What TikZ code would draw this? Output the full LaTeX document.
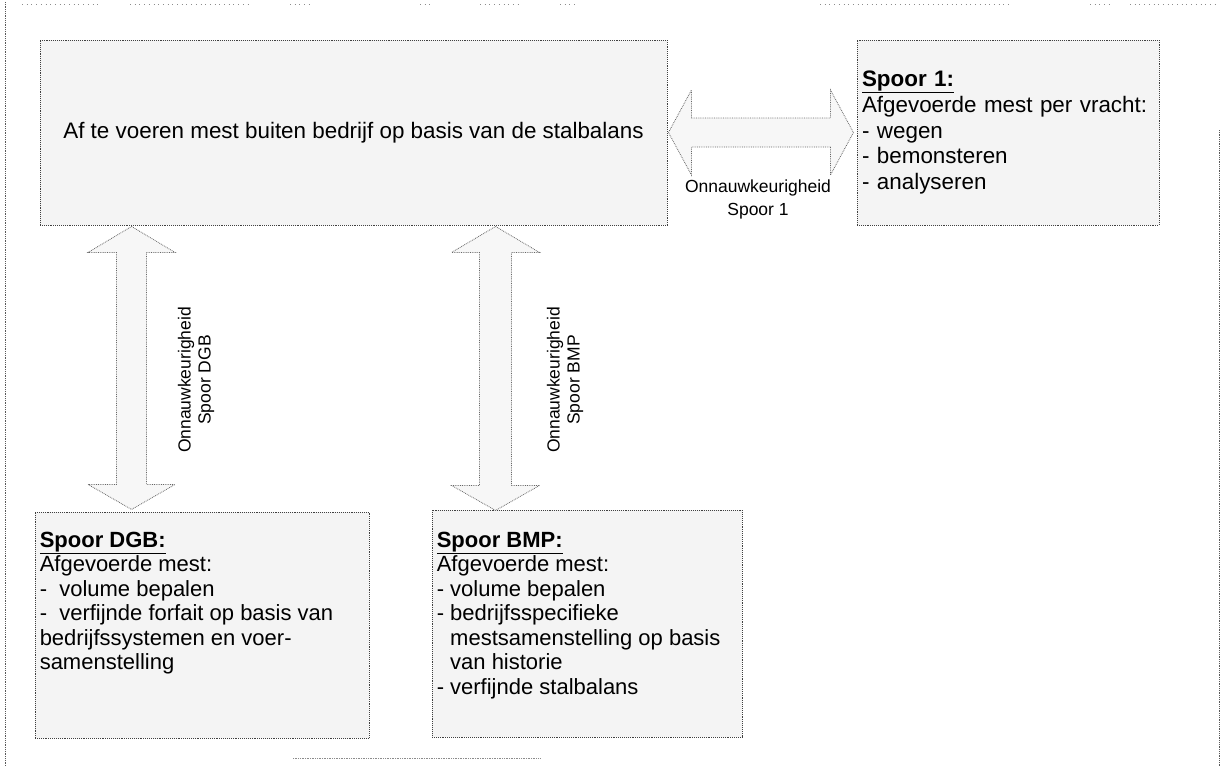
\documentclass[tikz,border=0pt]{standalone}
\usepackage{fontspec}
\setmainfont{Liberation Sans}
\usetikzlibrary{calc}
\begin{document}
\begin{tikzpicture}[x=1pt,y=-1pt,
  box/.style={draw=black!75, densely dotted, line width=0.9pt, fill=gray!9, inner sep=0pt},
  barrow/.style={draw=black!60, densely dotted, line width=0.8pt, fill=gray!6},
  bigtext/.style={font=\fontsize{22.4}{25.7}\selectfont, text=black},
  boxtext/.style={font=\fontsize{22}{24.5}\selectfont, text=black, align=left, inner sep=5pt, anchor=north west},
  lab/.style={font=\fontsize{17.5}{22.5}\selectfont, text=black, align=center, inner sep=0pt},
  vlab/.style={font=\fontsize{17.5}{20}\selectfont, text=black, align=center, inner sep=0pt, rotate=90},
  frame/.style={draw=black!65, densely dotted, line width=0.8pt}]
\useasboundingbox (0,0) rectangle (1222,766);

% page frame remnants
\draw[frame] (5,2) -- (5,766);
\draw[frame] (1219,130) -- (1219,766);
\draw[draw=black!45, loosely dotted, line width=0.7pt] (22,4) -- (100,4) (130,4) -- (250,4) (290,4) -- (312,4) (420,4) -- (432,4) (480,4) -- (520,4) (560,4) -- (575,4);
\draw[draw=black!45, loosely dotted, line width=0.7pt] (820,4) -- (1010,4) (1090,4) -- (1110,4) (1130,4) -- (1215,4);
\draw[draw=black!45, densely dotted, line width=0.7pt] (293,758) -- (540,758);

% boxes
\node[box, bigtext, minimum width=627, minimum height=185] (main) at (353.5,132.5)
  {Af te voeren mest buiten bedrijf op basis van de stalbalans};
\node[box, bigtext, minimum width=302, minimum height=185, text width=292, inner xsep=5pt, align=left] (s1) at (1008,132.5)
  {\underline{\textbf{Spoor 1:}}\\Afgevoerde mest per vracht:\\- wegen\\- bemonsteren\\- analyseren};
\node[box, minimum width=334, minimum height=226] (dgb) at (202,625) {};
\node[box, minimum width=310, minimum height=227] (bmp) at (587,623.5) {};
\node[boxtext] (dgbtxt) at ($(dgb.north west)+(0,15)$)
  {\underline{\textbf{Spoor DGB:}}\\Afgevoerde mest:\\-\ \ volume bepalen\\-\ \ verfijnde forfait op basis van\\bedrijfssystemen en voer-\\samenstelling};
\node[boxtext] (bmptxt) at ($(bmp.north west)+(0,17)$)
  {\underline{\textbf{Spoor BMP:}}\\Afgevoerde mest:\\- volume bepalen\\- bedrijfsspecifieke\\\phantom{- }mestsamenstelling op basis\\\phantom{- }van historie\\- verfijnde stalbalans};

% block double arrows
\draw[barrow] ($(main.east)+(1,0)$) -- ++(23,-42.5) -- ++(0,28) -- ++(139,0) -- ++(0,-28)
  -- ++(23,42.5) -- ++(-23,42.5) -- ++(0,-28) -- ++(-139,0) -- ++(0,28) -- cycle;
\coordinate (dgbtop) at ($(main.south west)+(92,1)$);
\draw[barrow] (dgbtop) -- ++(43.5,26) -- ++(-28.5,0) -- ++(0,232) -- ++(28.5,0) -- ++(-43.5,25)
  -- ++(-43.5,-25) -- ++(28.5,0) -- ++(0,-232) -- ++(-28.5,0) -- cycle;
\coordinate (bmptop) at ($(main.south west)+(456,1)$);
\draw[barrow] (bmptop) -- ++(44,26) -- ++(-28,0) -- ++(0,233) -- ++(28,0) -- ++(-44,25)
  -- ++(-44,-25) -- ++(28,0) -- ++(0,-233) -- ++(-28,0) -- cycle;

% labels
\node[lab] (l1) at (758,199.5) {Onnauwkeurigheid\\Spoor 1};
\node[vlab] (ldgb) at (196,380) {Onnauwkeurigheid\\Spoor DGB};
\node[vlab] (lbmp) at (565,380) {Onnauwkeurigheid\\Spoor BMP};
\end{tikzpicture}
\end{document}
